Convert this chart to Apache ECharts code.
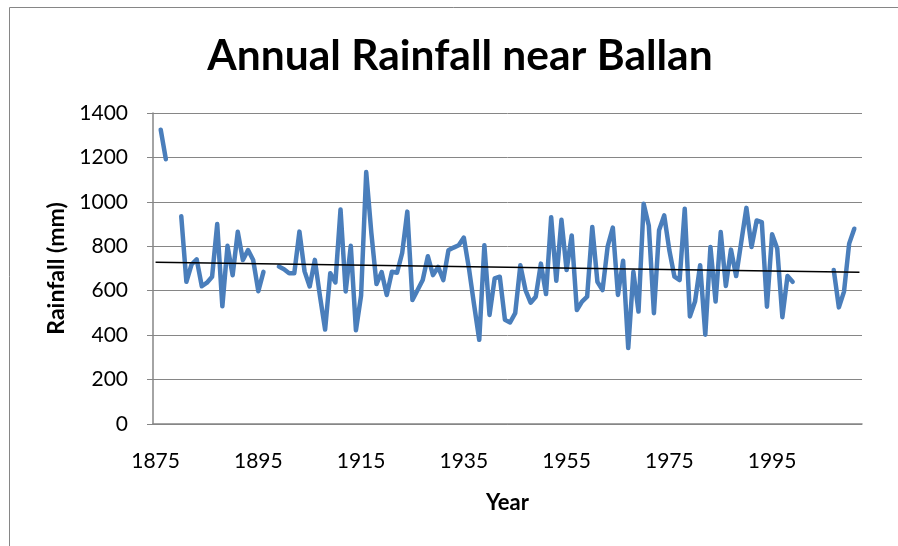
<!DOCTYPE html>
<html>
<head>
<meta charset="utf-8">
<title>Annual Rainfall near Ballan</title>
<script src="https://cdn.jsdelivr.net/npm/echarts@6/dist/echarts.min.js"></script>
<style>
    html, body { margin: 0; padding: 0; background: #fff; }
    #chart { width: 898px; height: 546px; }
</style>
</head>
<body>
<div id="chart"></div>
<script>
    // years on the category axis
    const firstYear = 1875;
    const lastYear = 2012;
    const years = [];
    for (let y = firstYear; y <= lastYear; y++) years.push(String(y));

    // annual rainfall (mm), null where no record
    const rainfall = [
        null, 1325, 1192, null, null, 935, 640, 718, 741, 620,
        636, 663, 900, 530, 802, 670, 865, 738, 783, 738,
        598, 685, null, null, 709, 697, 679, 679, 866, 687,
        619, 739, 575, 425, 679, 637, 966, 597, 802, 422,
        578, 1134, 860, 630, 684, 581, 685, 681, 770, 956,
        558, 603, 648, 755, 670, 707, 648, 782, 794, 805,
        839, 700, 536, 379, 805, 491, 655, 663, 469, 457,
        499, 715, 603, 546, 573, 722, 585, 931, 645, 919,
        693, 849, 513, 551, 573, 887, 640, 603, 800, 884,
        581, 735, 342, 685, 506, 991, 894, 499, 872, 939,
        782, 663, 648, 969, 484, 551, 715, 402, 797, 551,
        864, 621, 785, 666, 820, 973, 797, 916, 909, 528,
        854, 790, 481, 666, 640, null, null, null, null, null,
        null, null, 693, 525, 596, 812, 879, null
    ];

    // linear trend line end points
    const trendYears = ['1875', '2012'];
    const trendValues = [728, 683];

    const yTicks = { min: 0, max: 1400, step: 200 };

    const trend = years.map(y => {
        const k = trendYears.indexOf(y);
        return k >= 0 ? trendValues[k] : null;
    });

    const gray = '#868686';
    const font = 'Lato, "Open Sans", sans-serif';

    const chart = echarts.init(document.getElementById('chart'));
    chart.setOption({
        backgroundColor: '#fff',
        animation: false,
        graphic: [
            {
                type: 'polyline',
                shape: { points: [[9.5, 546], [9.5, 7.5], [898, 7.5]] },
                style: { stroke: gray, lineWidth: 1, fill: null }
            },
            {
                type: 'text',
                x: 460, y: 56,
                style: {
                    text: 'Annual Rainfall near Ballan',
                    font: 'bold 42.5px ' + font,
                    fill: '#000',
                    textAlign: 'center',
                    textVerticalAlign: 'middle'
                }
            }
        ],
        grid: { left: 153, right: 36, top: 113, bottom: 122 },
        xAxis: {
            type: 'category',
            data: years,
            boundaryGap: true,
            name: 'Year',
            nameLocation: 'middle',
            nameGap: 68,
            nameTextStyle: { fontFamily: font, fontWeight: 'bold', fontSize: 22, color: '#000' },
            axisLine: { lineStyle: { color: gray, width: 1.5 } },
            axisTick: { interval: 0, length: 5, lineStyle: { color: gray } },
            axisLabel: { interval: 19, margin: 27, fontFamily: font, fontSize: 21, color: '#000' },
            splitLine: { show: false }
        },
        yAxis: {
            type: 'value',
            min: yTicks.min,
            max: yTicks.max,
            interval: yTicks.step,
            name: 'Rainfall (mm)',
            nameLocation: 'middle',
            nameGap: 82,
            nameTextStyle: { fontFamily: font, fontWeight: 'bold', fontSize: 23, color: '#000' },
            axisLine: { show: true, lineStyle: { color: gray, width: 1.5 } },
            axisTick: { show: true, length: 6, lineStyle: { color: gray } },
            axisLabel: {
                margin: 25, fontFamily: font, fontSize: 21, color: '#000',
                formatter: v => String(v)
            },
            splitLine: { lineStyle: { color: gray, width: 1 } }
        },
        series: [
            {
                name: 'Rainfall',
                type: 'line',
                data: rainfall,
                showSymbol: false,
                connectNulls: false,
                lineStyle: { color: '#4a7ebb', width: 4.5, cap: 'round', join: 'round' },
                itemStyle: { color: '#4a7ebb' },
                z: 2
            },
            {
                name: 'Trend',
                type: 'line',
                data: trend,
                showSymbol: false,
                connectNulls: true,
                lineStyle: { color: '#000', width: 1.5 },
                itemStyle: { color: '#000' },
                z: 3
            }
        ]
    });
</script>
</body>
</html>
